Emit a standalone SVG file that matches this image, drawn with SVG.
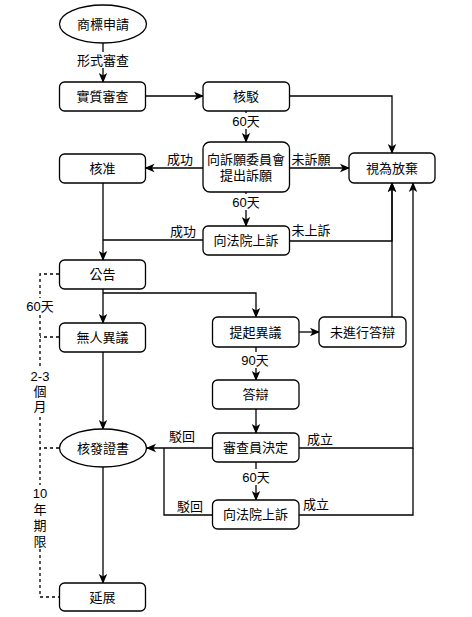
<svg xmlns="http://www.w3.org/2000/svg" width="472" height="617" viewBox="0 0 472 617">
<style>
.n rect, .n ellipse { fill: #ffffff; stroke: #000000; stroke-width: 1.3; }
text { font-family: "Liberation Sans", "Noto Sans CJK TC", sans-serif; font-size: 13px; fill: #000000; text-anchor: middle; dominant-baseline: central; }
.e path { fill: none; stroke: #000000; stroke-width: 1.3; }
.e path.a { marker-end: url(#arr); }
.e path.d { stroke-dasharray: 3 3; }
.bg { fill: #ffffff; stroke: none; }
</style>
<defs>
<marker id="arr" markerUnits="userSpaceOnUse" markerWidth="10" markerHeight="10" viewBox="0 0 10 10" refX="9" refY="5" orient="auto">
<path d="M0,0.8 L10,5 L0,9.2 L2.6,5 Z" fill="#000000"/>
</marker>
</defs>
<rect width="472" height="617" fill="#ffffff"/>
<g id="connectors" class="e">
<path class="a" d="M103,43 V82"/>
<path class="a" d="M145.5,96 H203"/>
<path class="a" d="M289.5,96 H392 V153"/>
<path class="a" d="M246,111 V142"/>
<path class="a" d="M203,168 H145.5"/>
<path class="a" d="M289.5,168 H349"/>
<path class="a" d="M246,192 V226"/>
<path d="M203,240 H103"/>
<path class="a" d="M289.5,241 H392 V183"/>
<path class="a" d="M103,183 V260"/>
<path class="a" d="M103,289 V323"/>
<path class="a" d="M103,293 H256 V317"/>
<path class="a" d="M299,332 H319"/>
<path class="a" d="M392,317 V183"/>
<path class="a" d="M256,347 V380"/>
<path class="a" d="M256,409 V433"/>
<path class="a" d="M299,448 H413 V183"/>
<path class="a" d="M212,448 H147"/>
<path class="a" d="M256,462 V500"/>
<path d="M212,515 H164 V448"/>
<path d="M299,515 H413 V448"/>
<path class="a" d="M103,352 V429"/>
<path class="a" d="M103,467 V583"/>
<path class="d" d="M59,274 H40 V597 H59"/>
<path class="d" d="M59,337 H40"/>
<path class="d" d="M59,448 H40"/>
<rect class="bg" x="75" y="52" width="56" height="16"/>
<text x="103" y="60">形式審查</text>
<rect class="bg" x="231" y="113" width="30" height="16"/>
<text x="246" y="121">60天</text>
<rect class="bg" x="231" y="194" width="30" height="16"/>
<text x="246" y="202">60天</text>
<text x="180" y="159">成功</text>
<text x="311" y="159">未訴願</text>
<text x="183" y="231">成功</text>
<text x="311" y="230">未上訴</text>
<rect class="bg" x="240" y="352" width="30" height="16"/>
<text x="255" y="360">90天</text>
<text x="320" y="439">成立</text>
<text x="182" y="436">駁回</text>
<rect class="bg" x="241" y="469" width="30" height="16"/>
<text x="256" y="477">60天</text>
<text x="190" y="506">駁回</text>
<text x="316" y="504">成立</text>
<rect class="bg" x="26" y="298" width="30" height="16"/>
<text x="40" y="306">60天</text>
<rect class="bg" x="28" y="368" width="24" height="46"/>
<text x="40" y="376">2-3</text>
<text x="40" y="391">個</text>
<text x="40" y="406">月</text>
<rect class="bg" x="28" y="485" width="24" height="64"/>
<text x="40" y="493">10</text>
<text x="40" y="509">年</text>
<text x="40" y="525">期</text>
<text x="40" y="541">限</text>
</g>
<g id="n1" class="n"><ellipse cx="103" cy="24" rx="43.5" ry="19"/><text x="103" y="24">商標申請</text></g>
<g id="n2" class="n"><rect x="59.5" y="82" width="86" height="29" rx="5"/><text x="102.5" y="96.5">實質審查</text></g>
<g id="n3" class="n"><rect x="203" y="82" width="86.5" height="29" rx="5"/><text x="246" y="96.5">核駁</text></g>
<g id="n4" class="n"><rect x="349" y="153" width="86" height="30" rx="5"/><text x="392" y="168">視為放棄</text></g>
<g id="n5" class="n"><rect x="203" y="142" width="86.5" height="50" rx="7"/><text x="246" y="159">向訴願委員會</text><text x="246" y="175">提出訴願</text></g>
<g id="n6" class="n"><rect x="59.5" y="154" width="86" height="29" rx="5"/><text x="102.5" y="168.5">核准</text></g>
<g id="n7" class="n"><rect x="203" y="226" width="86.5" height="29" rx="5"/><text x="246" y="240.5">向法院上訴</text></g>
<g id="n8" class="n"><rect x="59.5" y="260" width="86" height="29" rx="5"/><text x="102.5" y="274.5">公告</text></g>
<g id="n9" class="n"><rect x="59.5" y="323" width="86" height="29" rx="5"/><text x="102.5" y="337.5">無人異議</text></g>
<g id="n10" class="n"><rect x="212.5" y="317" width="86.5" height="30" rx="5"/><text x="255.5" y="332">提起異議</text></g>
<g id="n11" class="n"><rect x="319" y="317" width="87" height="30" rx="5"/><text x="362.5" y="332">未進行答辯</text></g>
<g id="n12" class="n"><rect x="212.5" y="380" width="86.5" height="29" rx="5"/><text x="255.5" y="394.5">答辯</text></g>
<g id="n13" class="n"><rect x="212.5" y="433" width="86.5" height="29" rx="5"/><text x="255.5" y="447.5">審查員決定</text></g>
<g id="n14" class="n"><ellipse cx="103" cy="448" rx="43.5" ry="19"/><text x="103" y="448">核發證書</text></g>
<g id="n15" class="n"><rect x="212.5" y="500" width="86.5" height="29" rx="5"/><text x="255.5" y="514.5">向法院上訴</text></g>
<g id="n16" class="n"><rect x="59.5" y="583" width="86" height="28" rx="5"/><text x="102.5" y="597">延展</text></g>
</svg>
